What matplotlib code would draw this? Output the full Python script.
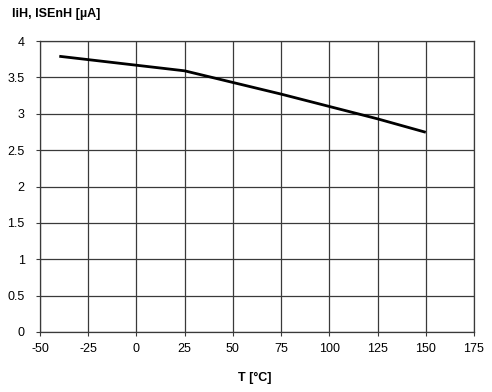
import matplotlib
matplotlib.use("Agg")
import matplotlib.pyplot as plt

temps = [-40, 25, 50, 75, 100, 125, 150]
current = [3.79, 3.59, 3.43, 3.27, 3.10, 2.93, 2.745]
xticks = [-50, -25, 0, 25, 50, 75, 100, 125, 150, 175]
yticks = [0, 0.5, 1, 1.5, 2, 2.5, 3, 3.5, 4]
ytick_labels = ["0", "0.5", "1", "1.5", "2", "2.5", "3", "3.5", "4"]

plt.rcParams['font.family'] = ['Liberation Sans', 'DejaVu Sans']
fig = plt.figure(figsize=(4.92, 3.92), dpi=100)
ax = fig.add_axes([40/492, 1-332/392, (474-40)/492, (332-41)/392])
ax.plot(temps, current, color='black', lw=2.0, solid_capstyle='butt', zorder=3)
ax.set_xlim(-50, 175)
ax.set_ylim(0, 4)
ax.set_xticks(xticks)
ax.set_xticklabels([str(t) for t in xticks])
ax.set_yticks(yticks)
ax.set_yticklabels(ytick_labels)
ax.grid(True, color='#3a3a3a', lw=0.9)
ax.tick_params(axis='both', direction='out', length=3, width=0.8, labelsize=9, color='#3a3a3a')
ax.tick_params(axis='x', pad=5)
ax.tick_params(axis='y', pad=8)
for s in ax.spines.values():
    s.set_color('#3a3a3a')
    s.set_linewidth(0.9)
ax.set_axisbelow(True)
fig.text(12/492, 1-14/392, "IiH, ISEnH [µA]", fontsize=9, fontweight='bold', ha='left', va='center')
fig.text(255/492, 1-378/392, "T [°C]", fontsize=9, fontweight='bold', ha='center', va='center')
fig.savefig("out.png", dpi=100)
